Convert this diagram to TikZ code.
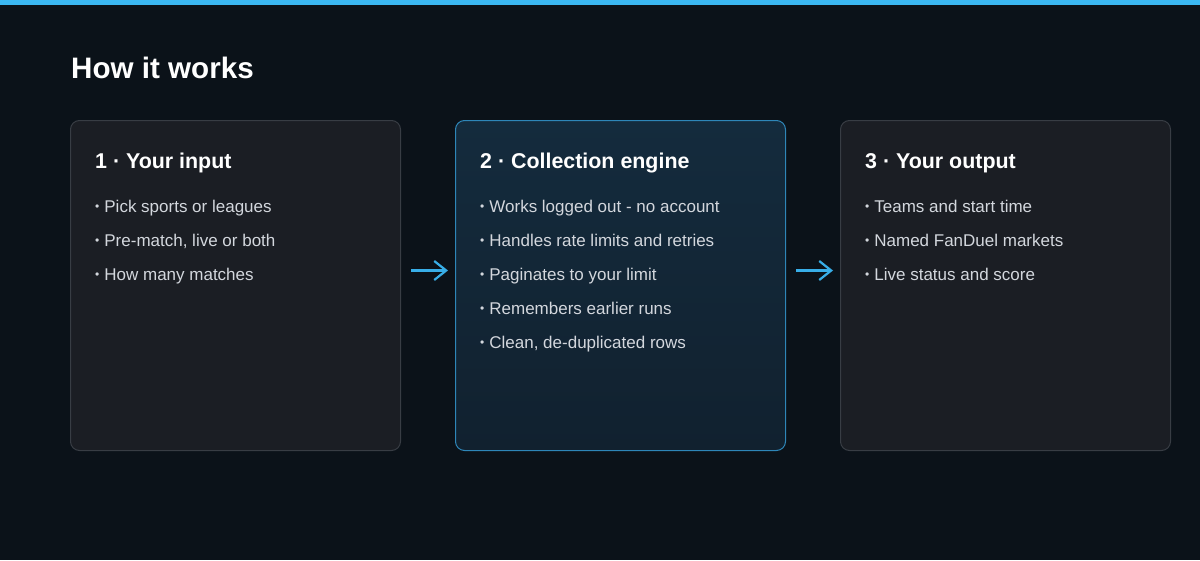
\documentclass[tikz,border=0pt]{standalone}
\usepackage{fontspec}
\setmainfont{Liberation Sans}
\usetikzlibrary{arrows.meta}
\definecolor{bg}{HTML}{0B1219}
\definecolor{topbar}{HTML}{3BB8F2}
\definecolor{cardfill}{HTML}{1B1E24}
\definecolor{cardedge}{HTML}{383D44}
\definecolor{hotfillA}{HTML}{142B3D}
\definecolor{hotfillB}{HTML}{11212F}
\definecolor{hotedge}{HTML}{2E86B8}
\definecolor{arrowc}{HTML}{38AEE8}
\definecolor{bullettext}{HTML}{D3D7DD}
\tikzset{
  card/.style={draw=cardedge, line width=1pt, fill=cardfill, rounded corners=9pt,
    minimum width=330pt, minimum height=330pt, inner sep=0pt, anchor=north west},
  hotcard/.style={card, draw=hotedge, top color=hotfillA, bottom color=hotfillB},
  cardtitle/.style={anchor=base west, inner sep=0pt, text=white, font=\fontsize{21.4}{25}\selectfont\bfseries},
  item/.style={anchor=base west, inner sep=0pt, text=bullettext, font=\fontsize{17}{20}\selectfont},
  flow/.style={draw=arrowc, line width=2.2pt, -{Straight Barb[length=12pt,width=19pt,line width=2.2pt]},
    shorten <=10pt, shorten >=7pt},
}
\newcommand{\bul}{{\fontsize{12}{12}\selectfont\raisebox{1.5pt}{•}}\hspace{5pt}}
\begin{document}
\begin{tikzpicture}[x=1pt,y=-1pt]
\useasboundingbox (0,0) rectangle (1200,560);
\fill[bg] (0,0) rectangle (1200,560);
\fill[topbar] (0,0) rectangle (1200,5);
\node[anchor=base west, inner sep=0pt, text=white, font=\fontsize{29.6}{34}\selectfont\bfseries] (title) at (71,78) {How it works};

\node[card] (b1) at (70,120) {};
\node[hotcard] (b2) at (455,120) {};
\node[card] (b3) at (840,120) {};

\node[cardtitle] (t1) at (95,168) {1 · Your input};
\node[item] (i11) at (95,212) {\bul Pick sports or leagues};
\node[item] (i12) at (95,246) {\bul Pre-match, live or both};
\node[item] (i13) at (95,280) {\bul How many matches};

\node[cardtitle] (t2) at (480,168) {2 · Collection engine};
\node[item] (i21) at (480,212) {\bul Works logged out - no account};
\node[item] (i22) at (480,246) {\bul Handles rate limits and retries};
\node[item] (i23) at (480,280) {\bul Paginates to your limit};
\node[item] (i24) at (480,314) {\bul Remembers earlier runs};
\node[item] (i25) at (480,348) {\bul Clean, de-duplicated rows};

\node[cardtitle] (t3) at (865,168) {3 · Your output};
\node[item] (i31) at (865,212) {\bul Teams and start time};
\node[item] (i32) at (865,246) {\bul Named FanDuel markets};
\node[item] (i33) at (865,280) {\bul Live status and score};

\draw[flow] ([yshift=15pt]b1.east) -- ([yshift=15pt]b2.west);
\draw[flow] ([yshift=15pt]b2.east) -- ([yshift=15pt]b3.west);
\end{tikzpicture}
\end{document}
